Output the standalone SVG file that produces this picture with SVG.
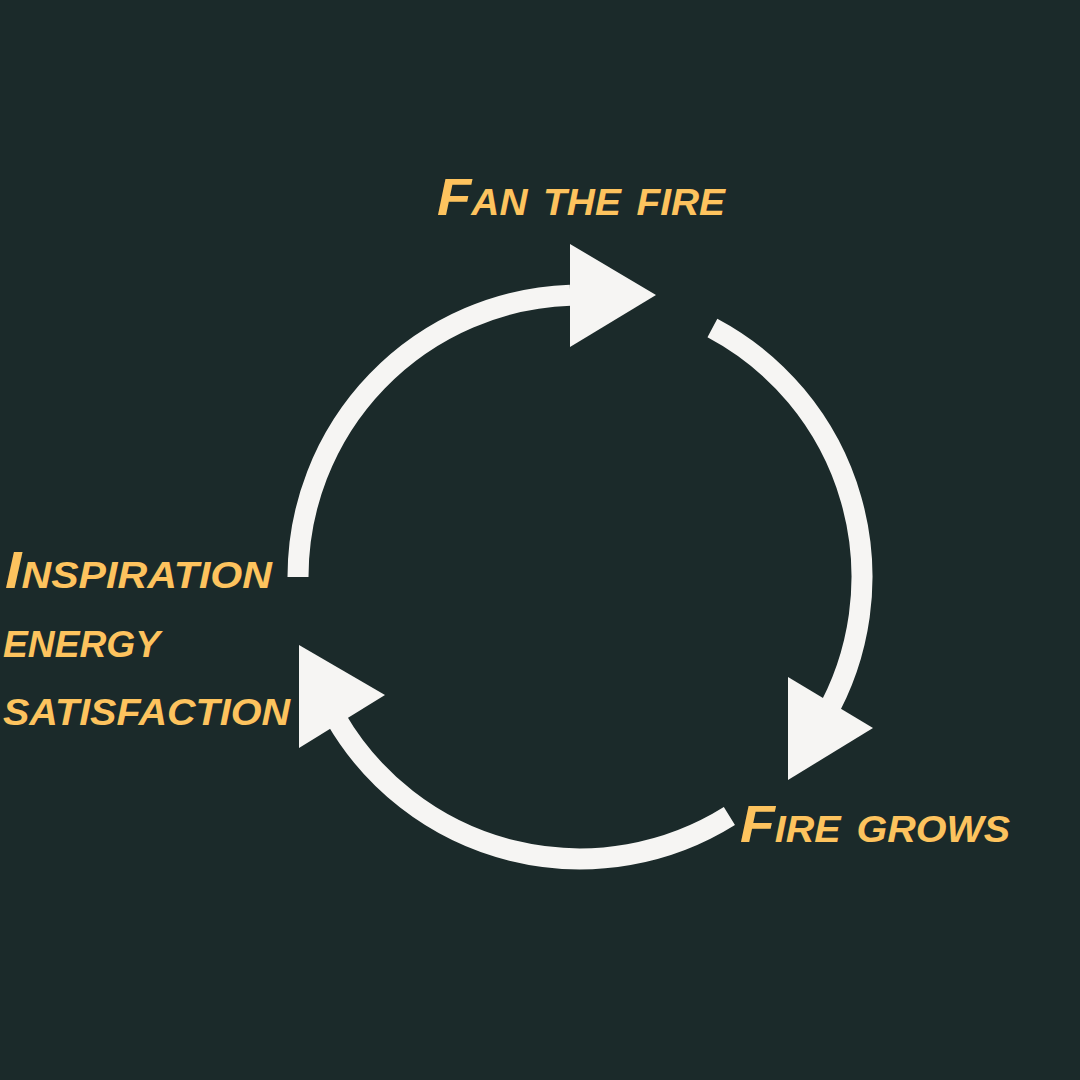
<svg xmlns="http://www.w3.org/2000/svg" width="1080" height="1080" viewBox="0 0 1080 1080">
<style>
.arc{fill:none;stroke:#f6f5f3;stroke-width:21;stroke-linecap:butt}
.head{fill:#f6f5f3}
.lbl{fill:#fdc35e;font-family:"Liberation Sans","DejaVu Sans",sans-serif;font-weight:bold;font-style:italic;font-variant:small-caps;font-size:52px}
</style>
<rect width="1080" height="1080" fill="#1b2a2a"/>
<g id="connectors">
<path class="arc" d="M298,577 A282,282 0 0 1 570.2,295.2"/>
<polygon class="head" points="570,244 656,295 570,347"/>
<path class="arc" d="M712.4,328 A282,282 0 0 1 824.2,718"/>
<polygon class="head" points="788,677 873,728 788,780"/>
<path class="arc" d="M729.4,816 A282,282 0 0 1 335.8,718"/>
<polygon class="head" points="299,645 385,695 299,748"/>
</g>
<g id="node-fan"><text class="lbl" x="437" y="215" textLength="288" lengthAdjust="spacingAndGlyphs">Fan the fire</text></g>
<g id="node-grows"><text class="lbl" x="740" y="842" textLength="270" lengthAdjust="spacingAndGlyphs">Fire grows</text></g>
<g id="node-inspiration">
<text class="lbl" x="5" y="588" textLength="267" lengthAdjust="spacingAndGlyphs">Inspiration</text>
<text class="lbl" x="3" y="657" textLength="157" lengthAdjust="spacingAndGlyphs">energy</text>
<text class="lbl" x="3" y="725" textLength="287" lengthAdjust="spacingAndGlyphs">satisfaction</text>
</g>
</svg>
